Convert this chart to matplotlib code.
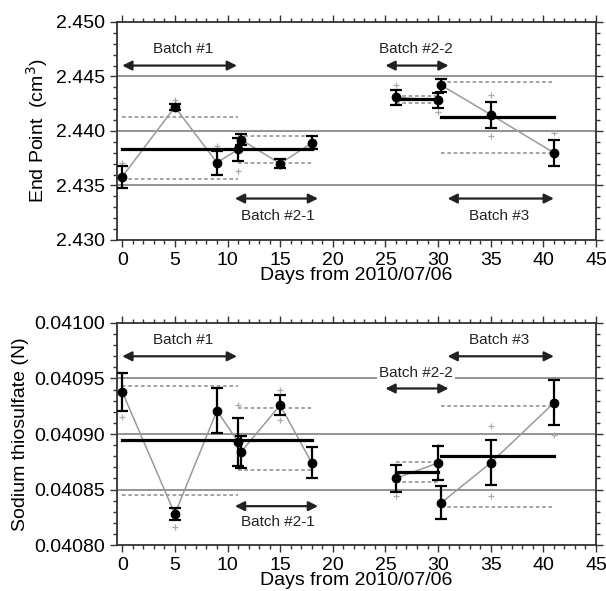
import matplotlib
matplotlib.use("Agg")
import matplotlib.pyplot as plt
from matplotlib.ticker import MultipleLocator, FormatStrFormatter

plt.rcParams['font.family'] = ['Liberation Sans', 'DejaVu Sans']

# ---------------- data: top panel (End point, cm^3) ----------------
ep_x1 = [0, 5, 9, 11, 11.3, 15, 18]
ep_y1 = [2.4358, 2.4422, 2.4371, 2.4383, 2.4392, 2.4370, 2.4389]
ep_e1 = [0.0010, 0.0003, 0.0011, 0.0011, 0.0005, 0.0004, 0.0006]
ep_x2 = [26, 30]
ep_y2 = [2.4431, 2.4428]
ep_e2 = [0.0007, 0.0007]
ep_x3 = [30.3, 35, 41]
ep_y3 = [2.4442, 2.4415, 2.4380]
ep_e3 = [0.0006, 0.0012, 0.0012]
ep_plus_x = [0, 5, 9, 11, 26, 30, 35, 35, 41]
ep_plus_y = [2.4371, 2.4428, 2.4386, 2.4363, 2.4442, 2.4417, 2.4433, 2.4395, 2.4398]
# mean lines (x0, x1, y)
ep_mean = [(0, 18, 2.4383), (26, 30, 2.4429), (30.3, 41, 2.4413)]
# dashed band lines (x0, x1, y)
ep_band = [(0, 11, 2.4413), (0, 11, 2.4356), (11, 18, 2.4395), (11, 18, 2.4371),
           (26, 30, 2.4432), (26, 30, 2.4426), (30.3, 41, 2.4445), (30.3, 41, 2.4380)]
ep_batch_names = ['Batch #1', 'Batch #2-1', 'Batch #2-2', 'Batch #3']
ep_arrows = [(0, 10.9, 2.4460), (10.7, 18.6, 2.4338), (25, 31, 2.4460), (30.9, 41, 2.4338)]
ep_labels = [(5.8, 2.4475), (14.8, 2.4322), (27.9, 2.4475), (35.8, 2.4322)]

# ---------------- data: bottom panel (Sodium thiosulfate, N) ----------------
st_x1 = [0, 5, 9, 11, 11.3, 15, 18]
st_y1 = [0.040938, 0.040828, 0.040921, 0.040893, 0.040884, 0.040926, 0.040874]
st_e1 = [0.0000172, 0.0000055, 0.0000203, 0.0000218, 0.0000143, 0.0000090, 0.0000140]
st_x2 = [26, 30]
st_y2 = [0.040860, 0.040874]
st_e2 = [0.0000123, 0.0000150]
st_x3 = [30.3, 35, 41]
st_y3 = [0.040838, 0.040874, 0.040928]
st_e3 = [0.0000150, 0.0000203, 0.0000203]
st_plus_x = [0, 5, 11, 15, 15, 26, 30, 35, 35, 41]
st_plus_y = [0.040915, 0.040816, 0.040926, 0.040940, 0.040913, 0.040844, 0.040889, 0.040907, 0.040844, 0.040899]
st_mean = [(0, 18, 0.040895), (26, 30, 0.040866), (30.3, 41, 0.040880)]
st_band = [(0, 11, 0.040943), (0, 11, 0.040845), (11, 18, 0.040923), (11, 18, 0.040868),
           (26, 30, 0.040875), (26, 30, 0.040857), (30.3, 41, 0.040925), (30.3, 41, 0.040834)]
st_batch_names = ['Batch #1', 'Batch #2-1', 'Batch #2-2', 'Batch #3']
st_arrows = [(0, 10.9, 0.040970), (10.7, 18.6, 0.040835), (25, 31, 0.040941), (30.9, 41, 0.040970)]
st_labels = [(5.8, 0.040985), (14.8, 0.040821), (27.9, 0.040955), (35.8, 0.040985)]

xticks = [0, 5, 10, 15, 20, 25, 30, 35, 40, 45]

fig = plt.figure(figsize=(6.06, 5.91), dpi=100)
ax1 = fig.add_axes([0.193, 0.594, 0.7905, 0.3688])
ax2 = fig.add_axes([0.193, 0.0778, 0.7905, 0.3757])


def draw(ax, groups, plus_x, plus_y, means, bands, arrows, labels, names,
         ylim, yticks, ymajor, yminor, fmt, ylabel, grid, white_label=None):
    ax.set_xlim(-0.5, 45)
    ax.set_ylim(*ylim)
    for g in grid:
        ax.axhline(g, color='#8a8a8a', lw=1.3, zorder=1)
    for x0, x1, y in bands:
        ax.plot([x0, x1], [y, y], color='#a09a9a', lw=1.3, ls=(0, (2, 1.5)), zorder=2)
    for x0, x1, y in means:
        ax.plot([x0, x1], [y, y], color='black', lw=2.3, zorder=3)
    for gx, gy, ge in groups:
        ax.plot(gx, gy, color='#9a9a9a', lw=1.1, zorder=2)
        ax.errorbar(gx, gy, yerr=ge, fmt='o', color='black', ms=6, capsize=4,
                    elinewidth=1.6, capthick=1.6, zorder=4)
    ax.plot(plus_x, plus_y, '+', color='#b0a8a8', ms=5, mew=0.9, zorder=2)
    for (x0, x1, y) in arrows:
        ax.annotate('', xy=(x0, y), xytext=(x1, y),
                    arrowprops=dict(arrowstyle='<|-|>', color='#222222', lw=1.6,
                                    mutation_scale=14, shrinkA=0, shrinkB=0), zorder=5)
    for i, ((tx, ty), name) in enumerate(zip(labels, names)):
        kw = {}
        if white_label is not None and i == white_label:
            kw['bbox'] = dict(facecolor='white', edgecolor='none', pad=1.5)
        ax.text(tx, ty, name, ha='center', va='center', fontsize=11,
                color='#222222', zorder=6, **kw)
    ax.set_xticks(xticks)
    ax.xaxis.set_minor_locator(MultipleLocator(1))
    ax.set_yticks(yticks)
    ax.yaxis.set_minor_locator(MultipleLocator(yminor))
    ax.yaxis.set_major_formatter(FormatStrFormatter(fmt))
    ax.tick_params(which='both', direction='out', top=True, right=True,
                   labelsize=14, width=1.0, color='#333333')
    ax.tick_params(which='major', length=5)
    ax.tick_params(which='minor', length=3)
    ax.set_xlabel('Days from 2010/07/06', fontsize=14, labelpad=-1)
    ax.set_ylabel(ylabel, fontsize=14)
    for s in ax.spines.values():
        s.set_linewidth(1.3)
        s.set_color('#333333')


draw(ax1, [(ep_x1, ep_y1, ep_e1), (ep_x2, ep_y2, ep_e2), (ep_x3, ep_y3, ep_e3)],
     ep_plus_x, ep_plus_y, ep_mean, ep_band, ep_arrows, ep_labels, ep_batch_names,
     (2.430, 2.450), [2.430, 2.435, 2.440, 2.445, 2.450], 0.005, 0.001, '%.3f',
     'End Point  (cm$^3$)', [2.435, 2.440, 2.445])

draw(ax2, [(st_x1, st_y1, st_e1), (st_x2, st_y2, st_e2), (st_x3, st_y3, st_e3)],
     st_plus_x, st_plus_y, st_mean, st_band, st_arrows, st_labels, st_batch_names,
     (0.04080, 0.04100), [0.04080, 0.04085, 0.04090, 0.04095, 0.04100], 0.00005, 0.00001, '%.5f',
     'Sodium thiosulfate (N)', [0.04085, 0.04090, 0.04095], white_label=2)

fig.savefig('out.png', dpi=100)
